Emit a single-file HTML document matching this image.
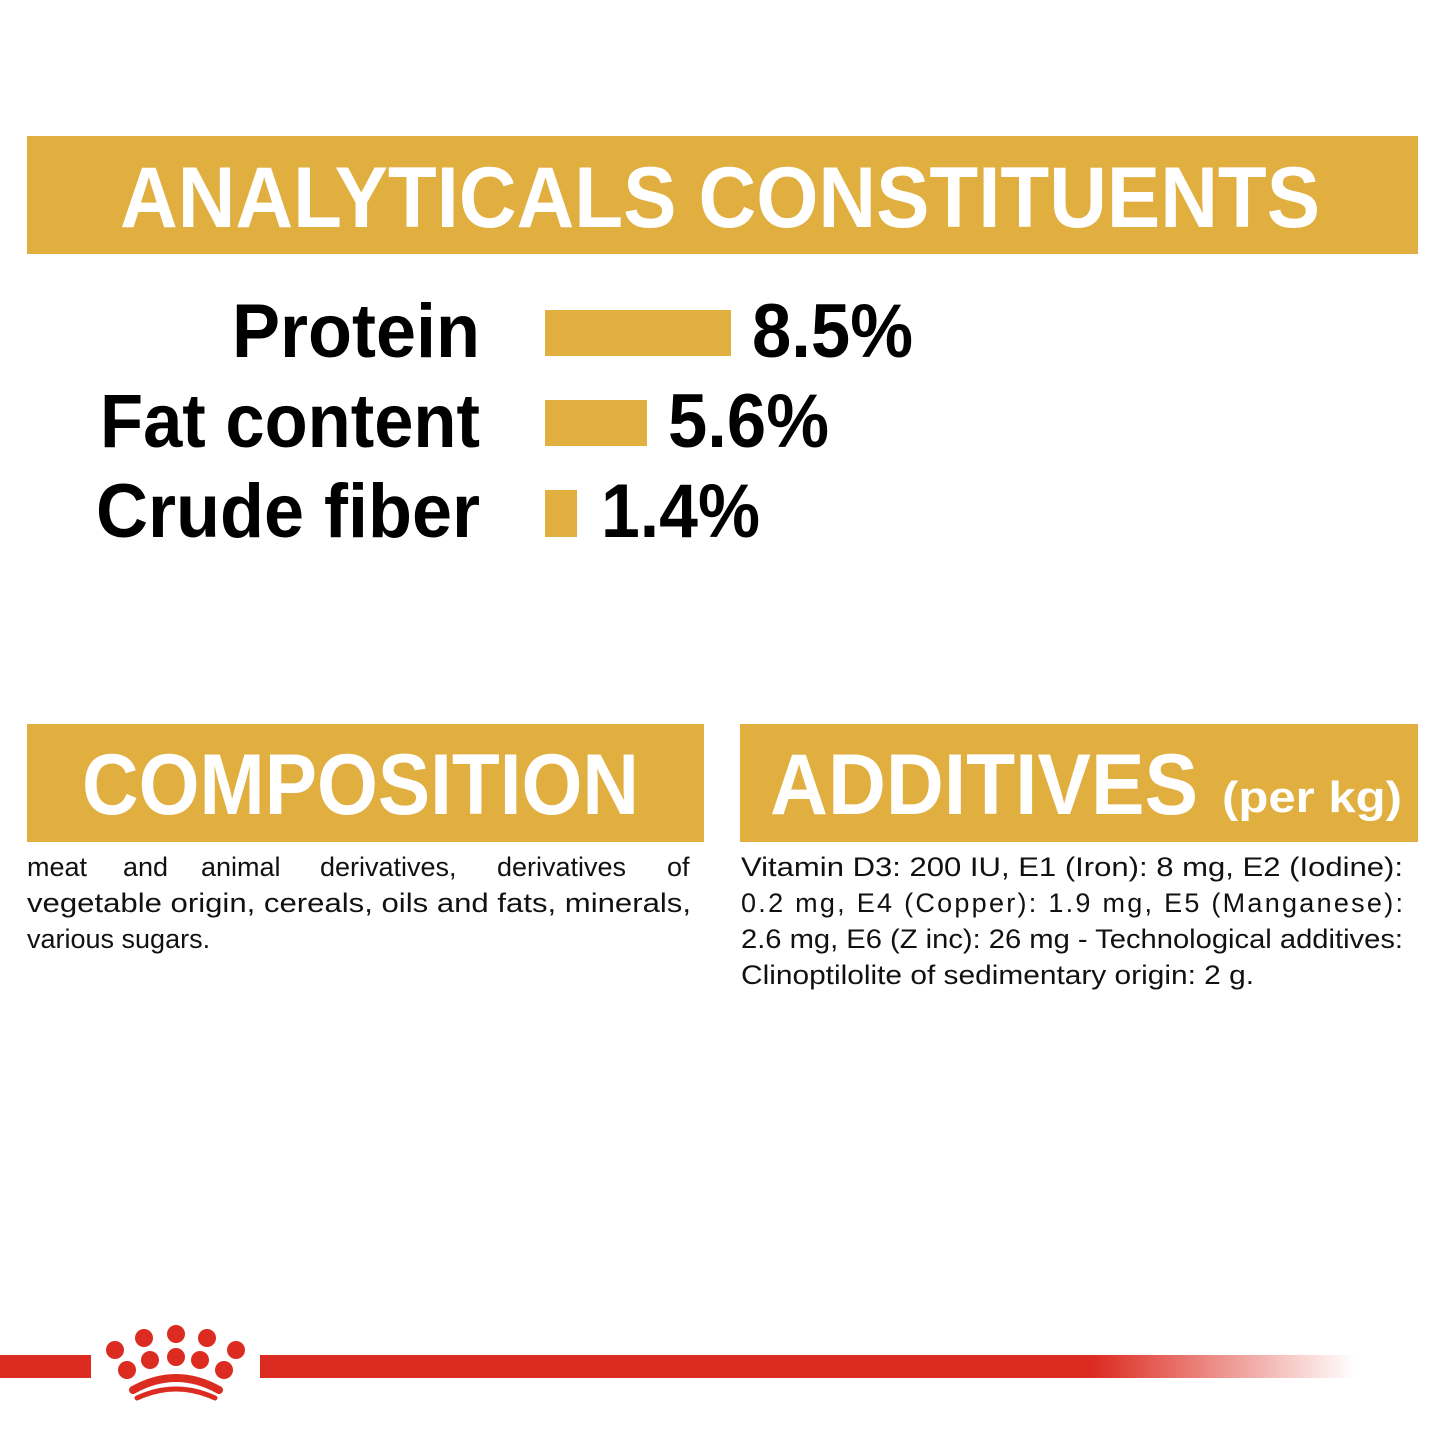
<!DOCTYPE html><html><head><style>body{margin:0;background:#fff}svg{display:block}</style></head><body>
<svg width="1445" height="1445" viewBox="0 0 1445 1445" xmlns="http://www.w3.org/2000/svg" font-family="Liberation Sans, sans-serif">
<rect x="27" y="136" width="1391" height="118" fill="#e1ae40"/>
<text x="120" y="227" font-size="86" font-weight="bold" fill="#fff" textLength="1200" lengthAdjust="spacingAndGlyphs">ANALYTICALS CONSTITUENTS</text>
<g font-size="76" font-weight="bold" fill="#000">
<text x="480" y="357" text-anchor="end" textLength="248" lengthAdjust="spacingAndGlyphs">Protein</text>
<text x="480" y="447" text-anchor="end" textLength="380" lengthAdjust="spacingAndGlyphs">Fat content</text>
<text x="480" y="537" text-anchor="end" textLength="384" lengthAdjust="spacingAndGlyphs">Crude fiber</text>
<text x="752" y="357" textLength="161" lengthAdjust="spacingAndGlyphs">8.5%</text>
<text x="668" y="447" textLength="161" lengthAdjust="spacingAndGlyphs">5.6%</text>
<text x="601" y="537" textLength="159" lengthAdjust="spacingAndGlyphs">1.4%</text>
</g>
<rect x="545" y="310" width="186" height="46" fill="#e1ae40"/>
<rect x="545" y="400" width="102" height="46" fill="#e1ae40"/>
<rect x="545" y="490" width="32" height="47" fill="#e1ae40"/>
<rect x="27" y="724" width="677" height="118" fill="#e1ae40"/>
<rect x="740" y="724" width="678" height="118" fill="#e1ae40"/>
<text x="82" y="814" font-size="86" font-weight="bold" fill="#fff" textLength="557" lengthAdjust="spacingAndGlyphs">COMPOSITION</text>
<text x="770" y="814" font-size="86" font-weight="bold" fill="#fff" textLength="428" lengthAdjust="spacingAndGlyphs">ADDITIVES</text>
<text x="1222" y="812" font-size="44" font-weight="bold" fill="#fff" textLength="180" lengthAdjust="spacingAndGlyphs">(per kg)</text>
<g font-size="27" fill="#111">
<text x="27" y="876">meat</text>
<text x="123" y="876">and</text>
<text x="201" y="876">animal</text>
<text x="320" y="876">derivatives,</text>
<text x="497" y="876">derivatives</text>
<text x="667" y="876">of</text>
<text x="27" y="912" textLength="664" lengthAdjust="spacingAndGlyphs">vegetable origin, cereals, oils and fats, minerals,</text>
<text x="27" y="948">various sugars.</text>
<text x="741" y="876" textLength="662" lengthAdjust="spacingAndGlyphs">Vitamin D3: 200 IU, E1 (Iron): 8 mg, E2 (Iodine):</text>
<text x="741" y="912" textLength="662">0.2 mg, E4 (Copper): 1.9 mg, E5 (Manganese):</text>
<text x="741" y="948" textLength="662" lengthAdjust="spacingAndGlyphs">2.6 mg, E6 (Z inc): 26 mg - Technological additives:</text>
<text x="741" y="984" textLength="513" lengthAdjust="spacingAndGlyphs">Clinoptilolite of sedimentary origin: 2 g.</text>
</g>
<defs><linearGradient id="g" x1="0" x2="1"><stop offset="0.76" stop-color="#dc2b20"/><stop offset="1" stop-color="#dc2b20" stop-opacity="0"/></linearGradient></defs>
<rect x="0" y="1355" width="91" height="23" fill="#dc2b20"/>
<rect x="260" y="1355" width="1095" height="23" fill="url(#g)"/>
<g fill="#dc2b20">
<circle cx="115" cy="1350" r="9"/><circle cx="144" cy="1338" r="9"/><circle cx="176" cy="1334" r="9"/><circle cx="207" cy="1338" r="9"/><circle cx="236" cy="1350" r="9"/>
<circle cx="127" cy="1370" r="9"/><circle cx="150" cy="1360" r="9"/><circle cx="176" cy="1357" r="9"/><circle cx="200" cy="1360" r="9"/><circle cx="224" cy="1370" r="9"/>
</g>
<g fill="none" stroke="#dc2b20" stroke-linecap="round">
<path d="M133 1390 Q176 1366 219 1390" stroke-width="8"/>
<path d="M137 1398 Q176 1380 215 1398" stroke-width="5"/>
</g>
</svg>
</body></html>
